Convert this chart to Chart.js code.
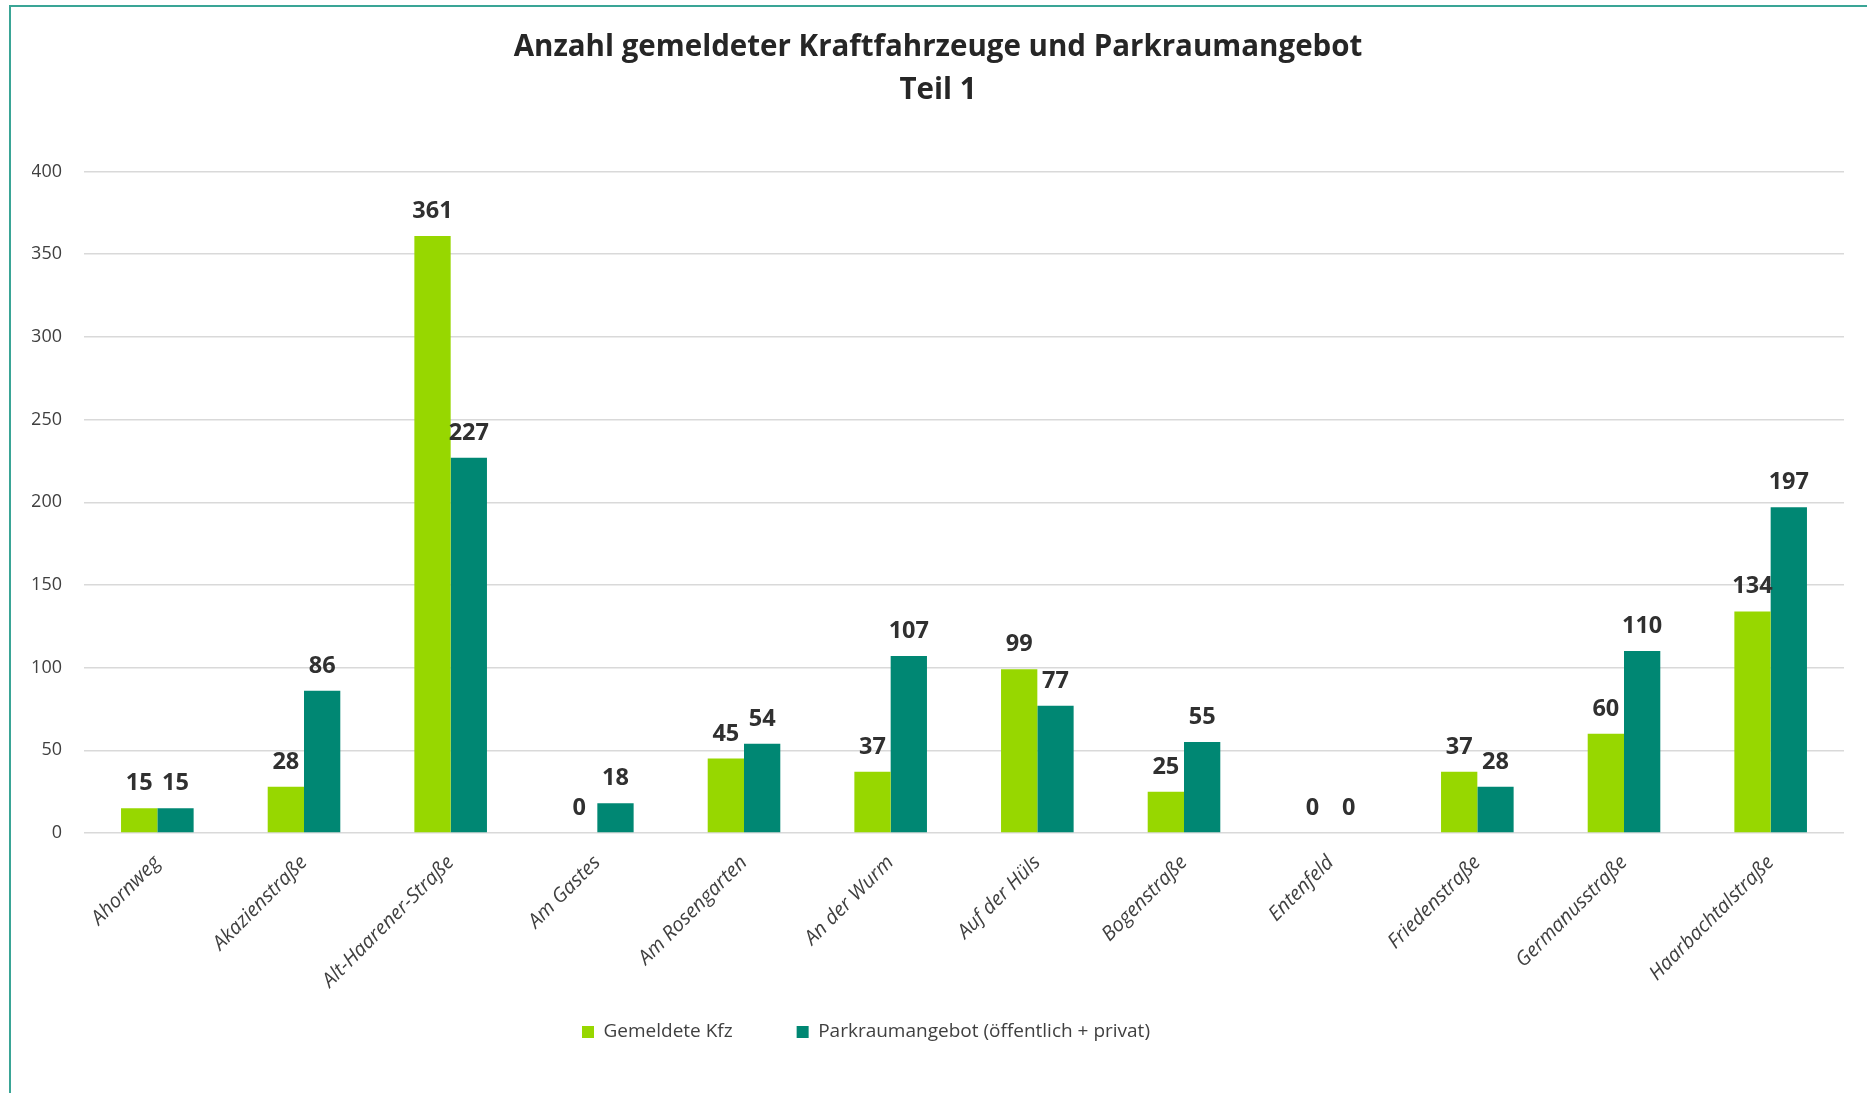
<!DOCTYPE html>
<html lang="de">
<head>
<meta charset="utf-8">
<title>Anzahl gemeldeter Kraftfahrzeuge und Parkraumangebot</title>
<script src="https://cdn.jsdelivr.net/npm/chart.js@4.4.1/dist/chart.umd.min.js"></script>
<style>
    html, body { margin: 0; padding: 0; background: #fff; }
    #wrap { position: relative; width: 1867px; height: 1093px; overflow: hidden; }
    #frame {
        position: absolute; left: 9px; top: 5px; right: -4px; bottom: -4px;
        border-left: 2px solid #3aa596; border-top: 2px solid #3aa596;
        pointer-events: none;
    }
    canvas { position: absolute; left: 0; top: 0; }
</style>
</head>
<body>
<div id="wrap">
    <canvas id="kfzChart" width="1867" height="1093"></canvas>
    <div id="frame"></div>
</div>
<script>
// Straßen (Kategorien)
const streets = [
    'Ahornweg', 'Akazienstraße', 'Alt-Haarener-Straße', 'Am Gastes', 'Am Rosengarten',
    'An der Wurm', 'Auf der Hüls', 'Bogenstraße', 'Entenfeld', 'Friedenstraße',
    'Germanusstraße', 'Haarbachtalstraße'
];

// Werte je Serie
const gemeldeteKfz = [15, 28, 361, 0, 45, 37, 99, 25, 0, 37, 60, 134];
const parkraum = [15, 86, 227, 18, 54, 107, 77, 55, 0, 28, 110, 197];

// Achse
const yMin = 0;
const yMax = 400;
const yStep = 50;

const seriesNames = ['Gemeldete Kfz', 'Parkraumangebot (öffentlich + privat)'];
const colors = ['#97d700', '#008773'];

Chart.defaults.font.family = "'Open Sans', 'Noto Sans', sans-serif";
Chart.defaults.color = '#404040';

// Datenbeschriftungen über den Balken
const valueLabels = {
    id: 'valueLabels',
    afterDatasetsDraw(chart) {
        const ctx = chart.ctx;
        ctx.save();
        ctx.font = "bold 23.5px 'Open Sans', sans-serif";
        ctx.fillStyle = '#303030';
        ctx.textAlign = 'center';
        ctx.textBaseline = 'alphabetic';
        chart.data.datasets.forEach((ds, i) => {
            chart.getDatasetMeta(i).data.forEach((bar, j) => {
                ctx.fillText(String(ds.data[j]), bar.x, bar.y - 18);
            });
        });
        ctx.restore();
    }
};

// Legende an die Stelle des Originals rücken (links versetzt, näher an den Achsentexten)
const legendShift = {
    id: 'legendShift',
    afterLayout(chart) {
        const lg = chart.legend;
        if (!lg || !lg.lineWidths) return;
        const pad = lg.options.labels.padding;
        const start = (lg.left + pad + lg.right - lg.lineWidths[0]) / 2;
        const dx = 582 - start;
        const dy = 1032 - (lg.top + pad + 9.5);
        lg.left += dx;
        lg.right += dx;
        lg.top += dy;
        lg.bottom += dy;
    }
};

try {
    new Chart(document.getElementById('kfzChart'), {
        type: 'bar',
        data: {
            labels: streets,
            datasets: [
                {
                    label: seriesNames[0],
                    data: gemeldeteKfz,
                    backgroundColor: colors[0],
                    categoryPercentage: 0.495,
                    barPercentage: 1
                },
                {
                    label: seriesNames[1],
                    data: parkraum,
                    backgroundColor: colors[1],
                    categoryPercentage: 0.495,
                    barPercentage: 1
                }
            ]
        },
        options: {
            responsive: false,
            animation: false,
            layout: {
                padding: { left: 32, right: 23, top: 0, bottom: 0 }
            },
            scales: {
                x: {
                    grid: { display: false },
                    border: { display: false },
                    ticks: {
                        minRotation: 45,
                        maxRotation: 45,
                        autoSkip: false,
                        padding: 10,
                        color: '#404040',
                        font: { size: 20, style: 'italic' }
                    },
                    afterFit(scale) { scale.height = 167; }
                },
                y: {
                    min: yMin,
                    max: yMax,
                    grid: { color: '#d9d9d9', lineWidth: 1.5, drawTicks: false },
                    border: { display: false },
                    ticks: {
                        stepSize: yStep,
                        padding: 22,
                        color: '#404040',
                        font: { size: 18 }
                    },
                    afterFit(scale) { scale.width = 52; }
                }
            },
            plugins: {
                title: {
                    display: true,
                    text: ['Anzahl gemeldeter Kraftfahrzeuge und Parkraumangebot', 'Teil 1'],
                    color: '#262626',
                    font: { size: 29.5, weight: 'bold', lineHeight: 1.45 },
                    padding: { top: 26, bottom: 60 }
                },
                legend: {
                    position: 'bottom',
                    labels: {
                        boxWidth: 12,
                        boxHeight: 12,
                        padding: 64,
                        color: '#404040',
                        font: { size: 19 }
                    }
                },
                tooltip: { enabled: false }
            }
        },
        plugins: [valueLabels, legendShift]
    });
} catch (error) {
    console.error('Error initializing chart:', error);
}
</script>
</body>
</html>
